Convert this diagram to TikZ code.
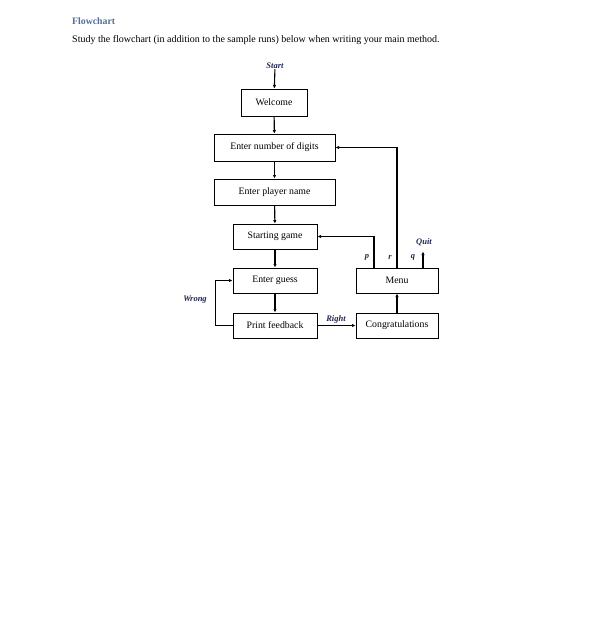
\documentclass[tikz,border=0pt]{standalone}
\usepackage{fontspec}
\setmainfont{Liberation Serif}
\usetikzlibrary{arrows.meta}
\definecolor{headblue}{RGB}{79,110,160}
\definecolor{labelink}{RGB}{30,38,80}
\begin{document}
\begin{tikzpicture}[x=1pt,y=-1pt,
        box/.style={draw,line width=1pt,inner sep=0pt,font=\fontsize{9.8}{11}\selectfont},
        lbl/.style={font=\fontsize{8.5}{10}\selectfont\itshape\bfseries,text=labelink,inner sep=0pt},
        arr/.style={line width=1.1pt,-{Latex[length=3.5pt,width=3.5pt]}}]
        \useasboundingbox (0,0) rectangle (612,635);

        \node[anchor=west,inner sep=0pt,text=headblue,font=\fontsize{9.8}{12}\selectfont\bfseries] (title) at (72,21) {Flowchart};
        \node[anchor=west,inner sep=0pt,font=\fontsize{10}{12}\selectfont] (intro) at (72,40) {Study the flowchart (in addition to the sample runs) below when writing your main method.};

        \node[lbl] (start) at (275,66) {Start};
        \node[box,minimum width=66pt,minimum height=27pt] (welcome) at (274,102.5) {Welcome};
        \node[box,minimum width=121pt,minimum height=27pt] (digits) at (274.5,147.5) {Enter number of digits};
        \node[box,minimum width=121pt,minimum height=26pt] (player) at (274.5,192) {Enter player name};
        \node[box,minimum width=84pt,minimum height=25pt] (starting) at (275,236.5) {Starting game};
        \node[box,minimum width=84pt,minimum height=25pt] (guess) at (275,280.5) {Enter guess};
        \node[box,minimum width=84pt,minimum height=25pt] (feedback) at (275,325.5) {Print feedback};
        \node[box,minimum width=82pt,minimum height=25pt] (menu) at (397,280.5) {Menu};
        \node[box,minimum width=82pt,minimum height=25pt] (congrats) at (397,325.5) {Congratulations};

        \draw[arr] (start) -- (welcome);
        \draw[arr] (welcome) -- (digits);
        \draw[arr] (digits) -- (player);
        \draw[arr] (player) -- (starting);
        \draw[arr] (starting) -- (guess);
        \draw[arr] (guess) -- (feedback);
        \draw[arr] (feedback) -- (congrats);
        \draw[arr] (congrats) -- (menu);

        % wrong guess loops back
        \draw[arr] (feedback.west) -- ++(-17,0) |- (guess.west);
        \node[lbl] (wrong) at (195,300) {Wrong};
        \node[lbl] (right) at (336,319) {Right};

        % menu choices
        \draw[arr] ([xshift=-23pt]menu.north) |- (starting.east);
        \draw[arr] (menu.north) |- (digits.east);
        \coordinate (quitend) at ([xshift=26pt,yshift=16pt]menu.north);
        \draw[arr] ([xshift=26pt]menu.north) -- (quitend);
        \node[lbl] (p) at (367,257) {p};
        \node[lbl] (r) at (390,257) {r};
        \node[lbl] (q) at (413,257) {q};
        \node[lbl] (quit) at (424,242) {Quit};
\end{tikzpicture}
\end{document}
